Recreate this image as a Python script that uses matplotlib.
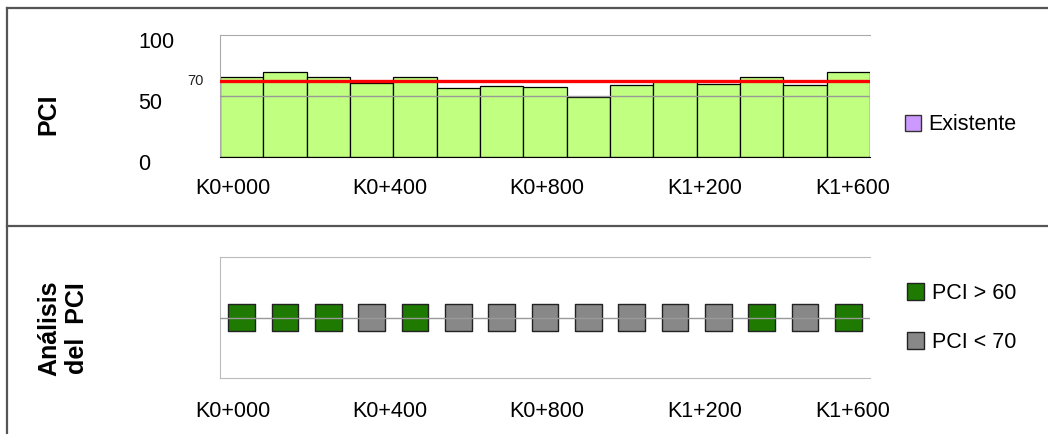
import matplotlib
matplotlib.use('Agg')
import matplotlib.pyplot as plt
import matplotlib.transforms as mtransforms
from matplotlib.patches import Patch
from matplotlib.lines import Line2D

plt.rcParams['font.family'] = ['Liberation Sans', 'DejaVu Sans']

# ---- datos ----
tramos = list(range(15))                      # 15 secciones
pci = [65.7, 69.8, 65.7, 60.3, 65.7, 56.8, 58.5, 57.6, 49.5,
       58.7, 62.0, 59.5, 65.7, 58.7, 69.3]
clase = ['alto', 'alto', 'alto', 'bajo', 'alto', 'bajo', 'bajo', 'bajo',
         'bajo', 'bajo', 'bajo', 'bajo', 'alto', 'bajo', 'alto']
limite = 62.2
limite_txt = '70'
tick_pos = [-0.2, 3.42, 7.05, 10.69, 14.11]
tick_lbl = ['K0+000', 'K0+400', 'K0+800', 'K1+200', 'K1+600']
y_ticks = [0, 50, 100]

C_BAR = '#C0FF80'
C_ALTO = '#1E7A00'
C_BAJO = '#888888'
C_LEG = '#CC99FF'
FS = 15.5

W, H = 1048, 434
fig = plt.figure(figsize=(W / 100, H / 100), dpi=100)

def px(x0, y0, x1, y1):
    return [x0 / W, 1 - y1 / H, (x1 - x0) / W, (y1 - y0) / H]

# ---- panel superior: PCI ----
ax = fig.add_axes(px(220, 34.7, 870, 157.3))
ax.bar(tramos, pci, width=1.0, color=C_BAR, edgecolor='black', linewidth=0.9, zorder=2)
ax.axhline(50, color='#999999', lw=1, zorder=3)
ax.axhline(limite, color='#FF0000', lw=2.4, zorder=4)
ax.set_xlim(-0.5, 14.5)
ax.set_ylim(0, 100)
ax.set_yticks(y_ticks)
ax.set_xticks(tick_pos)
ax.set_xticklabels(tick_lbl, fontsize=FS)
ax.tick_params(axis='x', length=0, pad=15)
ax.tick_params(axis='y', length=0, pad=59, labelsize=FS)
off = mtransforms.ScaledTranslation(0, -5 / 100, fig.dpi_scale_trans)
for t in ax.get_yticklabels():
    t.set_horizontalalignment('left')
    t.set_transform(t.get_transform() + off)
ax.spines['right'].set_visible(False)
ax.spines['top'].set_color('#AAAAAA')
ax.spines['left'].set_color('#AAAAAA')
ax.spines['bottom'].set_color('black')
ax.text(-0.0377, limite, limite_txt, transform=ax.get_yaxis_transform(),
        ha='center', va='center', fontsize=10.5, color='#222222')
ax.legend(handles=[Patch(facecolor=C_LEG, edgecolor='#333333', label='Existente')],
          loc='center left', bbox_to_anchor=(905 / W, 1 - 125 / H),
          bbox_transform=fig.transFigure, frameon=False, fontsize=FS,
          handlelength=0.75, handleheight=0.75, handletextpad=0.35,
          borderpad=0, borderaxespad=0)
fig.text(48 / W, 1 - 114 / H, 'PCI', rotation=90, ha='center', va='center',
         fontsize=18, fontweight='bold')

# ---- panel inferior: analisis ----
ax2 = fig.add_axes(px(220, 256.7, 870, 378.3))
ax2.set_xlim(-0.5, 14.5)
ax2.set_ylim(-1, 1)
colores = [C_ALTO if c == 'alto' else C_BAJO for c in clase]
ax2.scatter(tramos, [0] * len(tramos), marker='s', s=19 ** 2, c=colores,
            edgecolors='#222222', linewidths=1, zorder=2)
ax2.axhline(0, color='#999999', lw=1, zorder=3)
ax2.set_yticks([])
ax2.set_xticks(tick_pos)
ax2.set_xticklabels(tick_lbl, fontsize=FS)
ax2.tick_params(axis='x', length=0, pad=16)
ax2.spines['right'].set_visible(False)
for s in ['top', 'bottom', 'left']:
    ax2.spines[s].set_color('#BBBBBB')
h_alto = Patch(facecolor=C_ALTO, edgecolor='#222222', label='PCI > 60')
h_bajo = Patch(facecolor=C_BAJO, edgecolor='#222222', label='PCI < 70')
ax2.legend(handles=[h_alto, h_bajo], loc='center left',
           bbox_to_anchor=(907 / W, 1 - 318 / H), bbox_transform=fig.transFigure,
           frameon=False, fontsize=FS, handlelength=0.8, handleheight=0.8,
           handletextpad=0.35, labelspacing=1.3, borderpad=0, borderaxespad=0)
fig.text(63 / W, 1 - 328 / H, 'Análisis\ndel  PCI', rotation=90, ha='center',
         va='center', multialignment='center', fontsize=18, fontweight='bold')

# ---- marco ----
for xs, ys in [([7, W], [8, 8]), ([7, 7], [8, H]), ([7, W], [226, 226])]:
    fig.add_artist(Line2D([x / W for x in xs], [1 - y / H for y in ys],
                          color='#555555', lw=1.6))

fig.savefig('out.png', dpi=100)
